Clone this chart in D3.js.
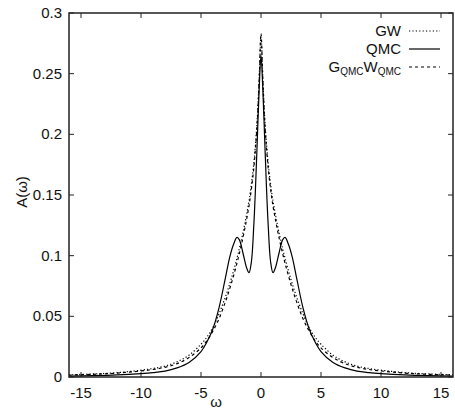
<!DOCTYPE html>
<html>
<head>
<meta charset="UTF-8">
<script src="https://d3js.org/d3.v7.min.js"></script>
<style>
  body { margin: 0; background: #fff; }
  svg text { font-family: "Liberation Sans", Arial, sans-serif; fill: #111; }
</style>
</head>
<body>
<div id="chart"></div>
<script>
// frequency grid (omega) shared by all curves
const omega = [-16, -14, -12, -10, -9, -8, -7, -6, -5, -4.5, -4, -3.5, -3, -2.6, -2.3, -2, -1.8, -1.5, -1.2, -1, -0.8, -0.6, -0.45, -0.3, -0.15,
  0, 0.15, 0.3, 0.45, 0.6, 0.8, 1, 1.2, 1.5, 1.8, 2, 2.3, 2.6, 3, 3.5, 4, 4.5, 5, 6, 7, 8, 9, 10, 12, 14, 16];

// GW (fine dotted)
const gw = [0.0018, 0.0025, 0.0036, 0.0056, 0.007, 0.009, 0.0125, 0.018, 0.027, 0.033, 0.041, 0.052, 0.065, 0.077, 0.087, 0.098, 0.106, 0.119, 0.134, 0.145, 0.159, 0.176, 0.193, 0.215, 0.247,
  0.28, 0.247, 0.215, 0.193, 0.176, 0.159, 0.145, 0.134, 0.119, 0.106, 0.098, 0.087, 0.077, 0.065, 0.052, 0.041, 0.033, 0.027, 0.018, 0.0125, 0.009, 0.007, 0.0056, 0.0036, 0.0025, 0.0018];

// QMC (solid)
const qmc = [0.0008, 0.0011, 0.0017, 0.0028, 0.0036, 0.0048, 0.0075, 0.012, 0.021, 0.029, 0.04, 0.057, 0.08, 0.099, 0.109, 0.115, 0.113, 0.102, 0.09, 0.086, 0.095, 0.125, 0.158, 0.198, 0.238,
  0.265, 0.238, 0.198, 0.158, 0.125, 0.095, 0.086, 0.09, 0.102, 0.113, 0.115, 0.109, 0.099, 0.08, 0.057, 0.04, 0.029, 0.021, 0.012, 0.0075, 0.0048, 0.0036, 0.0028, 0.0017, 0.0011, 0.0008];

// G_QMC W_QMC (dashed)
const gqmc = [0.0016, 0.0022, 0.0032, 0.005, 0.0062, 0.008, 0.011, 0.016, 0.024, 0.03, 0.038, 0.048, 0.061, 0.073, 0.083, 0.094, 0.102, 0.115, 0.13, 0.141, 0.155, 0.172, 0.19, 0.212, 0.245,
  0.283, 0.245, 0.212, 0.19, 0.172, 0.155, 0.141, 0.13, 0.115, 0.102, 0.094, 0.083, 0.073, 0.061, 0.048, 0.038, 0.03, 0.024, 0.016, 0.011, 0.008, 0.0062, 0.005, 0.0032, 0.0022, 0.0016];

const xTicks = [-15, -10, -5, 0, 5, 10, 15];
const yTicks = [0, 0.05, 0.1, 0.15, 0.2, 0.25, 0.3];

const width = 455, height = 409;
const m = { left: 69, right: 453, top: 13, bottom: 377 };

const svg = d3.select("#chart").append("svg")
  .attr("width", width)
  .attr("height", height);

const x = d3.scaleLinear().domain([-16, 16]).range([m.left, m.right]);
const y = d3.scaleLinear().domain([0, 0.3]).range([m.bottom, m.top]);

// ticks, gnuplot style (inward, mirrored)
const tickLen = 5;
const ax = svg.append("g").attr("stroke", "#222").attr("stroke-width", 1);
xTicks.forEach(t => {
  ax.append("line").attr("x1", x(t)).attr("x2", x(t)).attr("y1", m.bottom).attr("y2", m.bottom - tickLen);
  ax.append("line").attr("x1", x(t)).attr("x2", x(t)).attr("y1", m.top).attr("y2", m.top + tickLen);
});
yTicks.forEach(t => {
  ax.append("line").attr("x1", m.left).attr("x2", m.left + tickLen).attr("y1", y(t)).attr("y2", y(t));
  ax.append("line").attr("x1", m.right).attr("x2", m.right - tickLen).attr("y1", y(t)).attr("y2", y(t));
});

// tick labels
svg.append("g").selectAll("text").data(xTicks).join("text")
  .attr("x", d => x(d))
  .attr("y", 398)
  .attr("text-anchor", "middle")
  .attr("font-size", "15px")
  .text(d => d);

svg.append("g").selectAll("text").data(yTicks).join("text")
  .attr("x", 62)
  .attr("y", d => y(d) + 5)
  .attr("text-anchor", "end")
  .attr("font-size", "15px")
  .text(d => d);

// axis titles
svg.append("text")
  .attr("x", 216).attr("y", 407)
  .attr("text-anchor", "middle")
  .attr("font-size", "15px")
  .text("ω");

svg.append("text")
  .attr("transform", "translate(27,192) rotate(-90)")
  .attr("text-anchor", "middle")
  .attr("font-size", "15px")
  .text("A(ω)");

// curves
const series = [
  { name: "GW", values: gw, dash: "1.2,2.2" },
  { name: "QMC", values: qmc, dash: null },
  { name: "GQMC", values: gqmc, dash: "3,3" }
];

const line = d3.line()
  .x(d => x(d[0]))
  .y(d => y(d[1]))
  .curve(d3.curveCatmullRom.alpha(0.5));

series.forEach(s => {
  svg.append("path")
    .datum(omega.map((w, i) => [w, s.values[i]]))
    .attr("d", line)
    .attr("fill", "none")
    .attr("stroke", "#000")
    .attr("stroke-width", 1.2)
    .attr("stroke-dasharray", s.dash);
});

// frame
svg.append("rect")
  .attr("x", m.left).attr("y", m.top)
  .attr("width", m.right - m.left).attr("height", m.bottom - m.top)
  .attr("fill", "none")
  .attr("stroke", "#222")
  .attr("stroke-width", 1.5);

// legend
const legendRows = [31, 49, 67];
const leg = svg.append("g");
series.forEach((s, i) => {
  const t = leg.append("text")
    .attr("x", 401)
    .attr("y", legendRows[i] + 5)
    .attr("text-anchor", "end")
    .attr("font-size", "15px");
  if (s.name === "GQMC") {
    t.append("tspan").text("G");
    t.append("tspan").attr("font-size", "10px").attr("dy", 3).text("QMC");
    t.append("tspan").attr("dy", -3).text("W");
    t.append("tspan").attr("font-size", "10px").attr("dy", 3).text("QMC");
  } else {
    t.text(s.name);
  }
  leg.append("line")
    .attr("x1", 409).attr("x2", 440)
    .attr("y1", legendRows[i]).attr("y2", legendRows[i])
    .attr("stroke", "#000")
    .attr("stroke-width", 1.2)
    .attr("stroke-dasharray", s.dash);
});
</script>
</body>
</html>
